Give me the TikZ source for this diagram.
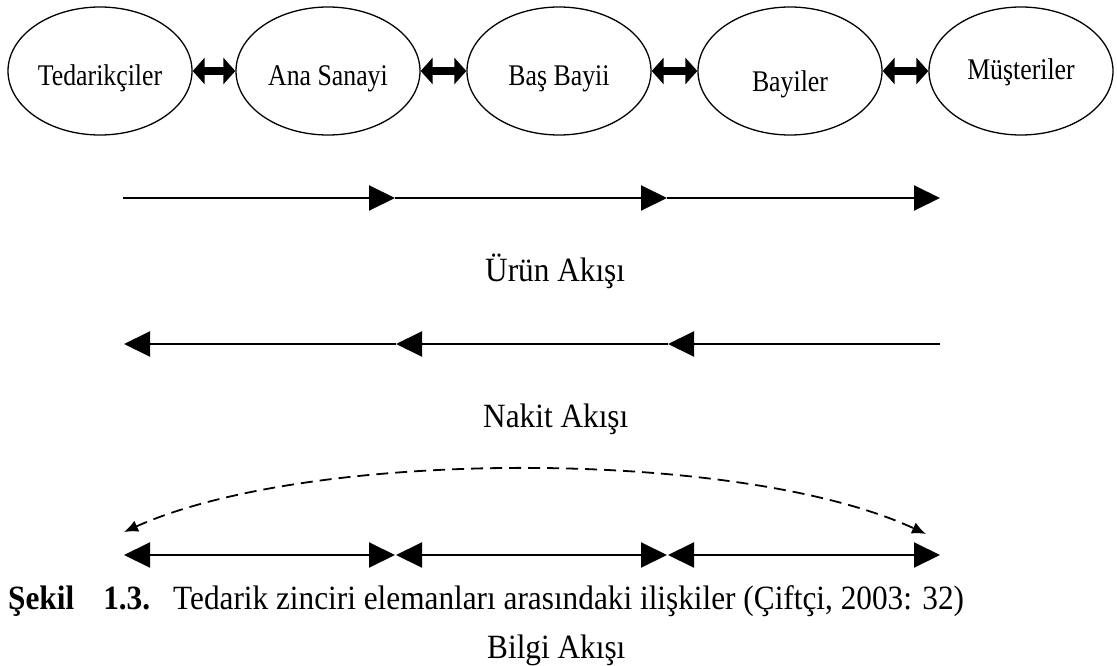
\documentclass[tikz,border=0pt]{standalone}
\usepackage{fontspec}
\setmainfont{Liberation Serif}[FakeStretch=0.92]
\newfontfamily\ellfont{Liberation Serif}[FakeStretch=0.86]
\usetikzlibrary{arrows.meta,shapes.geometric}

% text set with its baseline a given distance below the node centre
\newcommand{\lowered}[2]{\raisebox{-#1}[0pt][0pt]{#2}}

\tikzset{
  actor/.style={ellipse, draw, line width=1.3pt, minimum width=184pt,
    minimum height=128pt, inner sep=0pt,
    font=\ellfont\fontsize{30}{34}\selectfont},
  link/.style={line width=8.5pt, {Triangle[length=12pt,width=26pt]}-{Triangle[length=12pt,width=26pt]}},
  flow/.style={line width=2pt},
  fwd/.style={flow, -{Triangle[length=26pt,width=25pt]}},
  both/.style={flow, {Triangle[length=26pt,width=25pt]}-{Triangle[length=26pt,width=25pt]}},
  infoarc/.style={line width=1.8pt, dash pattern=on 12pt off 7pt,
    {Latex[length=14pt,width=12pt]}-{Latex[length=14pt,width=12pt]}},
  flowlabel/.style={anchor=base west, inner sep=0pt, font=\fontsize{34}{40}\selectfont},
}

\begin{document}
\begin{tikzpicture}[x=1pt,y=-1pt]
\useasboundingbox (0,0) rectangle (1117,666);

% supply chain members
\node[actor] (ted) at (100,71) {\lowered{15pt}{Tedarikçiler}};
\node[actor] (ana) at (328,71) {\lowered{15pt}{Ana Sanayi}};
\node[actor] (bas) at (559,71) {\lowered{15pt}{Baş Bayii}};
\node[actor] (bay) at (790,71) {\lowered{21pt}{Bayiler}};
\node[actor] (mus) at (1021,71) {\lowered{9pt}{Müşteriler}};

\draw[link] (ted.east) -- (ana.west);
\draw[link] (ana.east) -- (bas.west);
\draw[link] (bas.east) -- (bay.west);
\draw[link] (bay.east) -- (mus.west);

% product flow
\coordinate (u0) at (123,198);
\coordinate (u1) at (395,198);
\coordinate (u2) at (667,198);
\coordinate (u3) at (940,198);
\draw[fwd] (u0) -- (u1);
\draw[fwd] (u1) -- (u2);
\draw[fwd] (u2) -- (u3);
\node[flowlabel] (urun) at (485,281) {Ürün Akışı};

% cash flow
\coordinate (n0) at (124,344);
\coordinate (n1) at (396,344);
\coordinate (n2) at (668,344);
\coordinate (n3) at (940,344);
\draw[fwd] (n1) -- (n0);
\draw[fwd] (n2) -- (n1);
\draw[fwd] (n3) -- (n2);
\node[flowlabel] (nakit) at (483,427) {Nakit Akışı};

% information flow
\coordinate (d0) at (124,532);
\coordinate (d1) at (926,534);
\draw[infoarc] (d0) .. controls (310,448) and (741,448) .. (d1);
\coordinate (b0) at (124,555);
\coordinate (b1) at (395,555);
\coordinate (b2) at (396,555);
\coordinate (b3) at (667,555);
\coordinate (b4) at (668,555);
\coordinate (b5) at (940,555);
\draw[both] (b0) -- (b1);
\draw[both] (b2) -- (b3);
\draw[both] (b4) -- (b5);

% caption
\node[flowlabel] (cap) at (8,609)
  {\textbf{Şekil}\hspace{29pt}\textbf{1.3.}\hspace{23pt}Tedarik zinciri elemanları arasındaki ilişkiler (Çiftçi, 2003: 32)};
\node[flowlabel] (bilgi) at (487,658) {Bilgi Akışı};
\end{tikzpicture}
\end{document}
